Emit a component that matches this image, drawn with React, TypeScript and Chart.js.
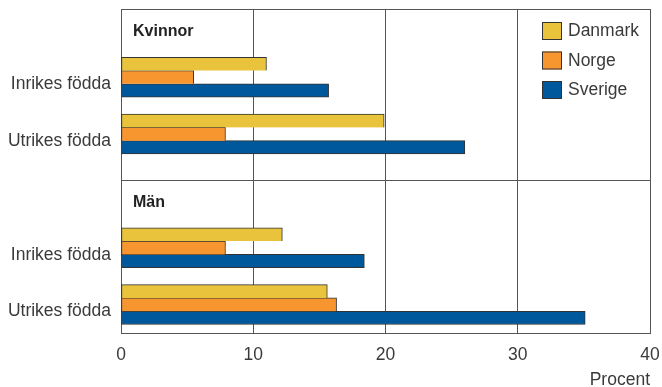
import React, { useEffect, useRef } from "react";
import { Chart, registerables } from "chart.js";

Chart.register(...registerables);

// ---- data ----
const panelTitles = ["Kvinnor", "Män"];
const rowLabels = ["Inrikes födda", "Utrikes födda", "Inrikes födda", "Utrikes födda"];
const rowPositions = [1, 2, 4, 5];
const panelStarts = [-0.2, 2.8];
const yRange = [-0.2, 5.5];
const seriesNames = ["Danmark", "Norge", "Sverige"];
const danmark = [11.0, 19.9, 12.2, 15.6];
const norge = [5.5, 7.9, 7.9, 16.3];
const sverige = [15.7, 26.0, 18.4, 35.1];
const xTicks = [0, 10, 20, 30, 40];
const xTitle = "Procent";

const seriesColors = ["#E8C33B", "#F7962F", "#00589C"];
const FONT = "'Liberation Sans', Arial, sans-serif";
const LINE = "#555555";
const TEXT = "#3a3a3a";

const toPoints = (vals: number[]) => vals.map((v, i) => ({ x: v, y: rowPositions[i] }));

const decorPlugin = {
  id: "decor",
  beforeDatasetsDraw(chart: any) {
    const { ctx, chartArea: a, scales } = chart;
    const y = scales.y;
    ctx.save();
    ctx.strokeStyle = LINE;
    ctx.lineWidth = 1;
    ctx.beginPath();
    const top = Math.round(a.top) + 0.5;
    ctx.moveTo(a.left, top);
    ctx.lineTo(a.right, top);
    const d = Math.round(y.getPixelForValue(panelStarts[1])) + 0.5;
    ctx.moveTo(a.left, d);
    ctx.lineTo(a.right, d);
    ctx.stroke();
    ctx.restore();
  },
  afterDraw(chart: any) {
    const { ctx, chartArea: a, scales } = chart;
    const y = scales.y;
    ctx.save();
    // panel titles
    ctx.font = `bold 16px ${FONT}`;
    ctx.fillStyle = "#222222";
    ctx.textAlign = "left";
    ctx.textBaseline = "middle";
    panelTitles.forEach((t, i) => {
      ctx.fillText(t, a.left + 12, y.getPixelForValue(panelStarts[i] + 0.4));
    });
    // legend
    ctx.font = `17.5px ${FONT}`;
    chart.data.datasets.forEach((ds: any, i: number) => {
      const bx = a.right - 108;
      const by = a.top + 13 + i * 29.5;
      ctx.fillStyle = ds.backgroundColor;
      ctx.fillRect(bx, by, 20, 18);
      ctx.strokeStyle = "#333333";
      ctx.lineWidth = 1;
      ctx.strokeRect(bx + 0.5, by + 0.5, 19, 17);
      ctx.fillStyle = TEXT;
      ctx.fillText(ds.label, bx + 26, by + 9.5);
    });
    ctx.restore();
  },
};

export default function App() {
  const ref = useRef<HTMLCanvasElement | null>(null);
  useEffect(() => {
    document.body.style.margin = "0";
    const canvas = ref.current;
    if (!canvas) return;
    const seriesData = [danmark, norge, sverige];
    const chart = new Chart(canvas, {
      type: "bar",
      data: {
        datasets: seriesNames.map((name, i) => ({
          label: name,
          data: toPoints(seriesData[i]),
          backgroundColor: seriesColors[i],
          borderColor: "#333333",
          borderWidth: 1,
          borderSkipped: i < 2 ? "bottom" : false,
          barThickness: 13.3,
        })),
      },
      options: {
        indexAxis: "y",
        animation: false,
        responsive: false,
        devicePixelRatio: 1,
        layout: { padding: { top: 9, right: 12, left: 0, bottom: 0 } },
        plugins: { legend: { display: false }, tooltip: { enabled: false } },
        scales: {
          x: {
            type: "linear",
            position: "bottom",
            min: xTicks[0],
            max: xTicks[xTicks.length - 1],
            afterBuildTicks: (s: any) => {
              s.ticks = xTicks.map((v) => ({ value: v }));
            },
            ticks: {
              font: { family: FONT, size: 17.5 },
              color: TEXT,
              padding: 12,
              maxRotation: 0,
              autoSkip: false,
            },
            grid: { color: LINE, lineWidth: 1, drawTicks: false },
            border: { color: LINE, width: 1 },
            title: {
              display: true,
              text: xTitle,
              align: "end",
              color: TEXT,
              font: { family: FONT, size: 17.5, lineHeight: 0.8 },
              padding: 0,
            },
            afterFit: (s: any) => {
              s.height = 54;
              s.paddingLeft = 0;
              s.paddingRight = 0;
              s.paddingTop = 0;
              s.paddingBottom = 0;
            },
          },
          y: {
            type: "linear",
            reverse: true,
            offset: false,
            min: yRange[0],
            max: yRange[1],
            afterBuildTicks: (s: any) => {
              s.ticks = rowPositions.map((v) => ({ value: v }));
            },
            ticks: {
              callback: (_v: any, idx: number) => rowLabels[idx] ?? "",
              font: { family: FONT, size: 17.5 },
              color: TEXT,
              padding: 10,
              labelOffset: 7,
              autoSkip: false,
            },
            grid: { display: false, drawTicks: false },
            border: { color: LINE, width: 1 },
            afterFit: (s: any) => {
              s.width = 121;
              s.paddingLeft = 0;
              s.paddingRight = 0;
              s.paddingTop = 0;
              s.paddingBottom = 0;
            },
          },
        },
      } as any,
      plugins: [decorPlugin],
    });
    return () => chart.destroy();
  }, []);
  return (
    <div style={{ width: 662, height: 387 }}>
      <canvas ref={ref} width={662} height={387} style={{ display: "block" }} />
    </div>
  );
}
